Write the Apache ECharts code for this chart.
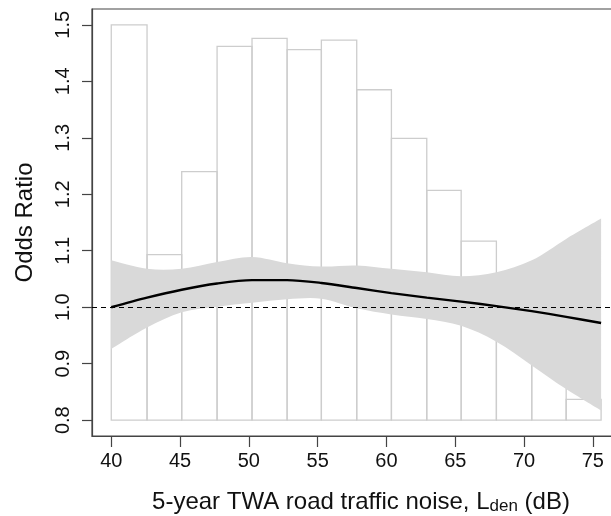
<!DOCTYPE html>
<html>
<head>
<meta charset="utf-8">
<script src="https://cdn.jsdelivr.net/npm/echarts@6/dist/echarts.min.js"></script>
<style>
html,body{margin:0;padding:0;background:#fff;}
#chart{width:611px;height:516px;}
</style>
</head>
<body>
<div id="chart"></div>
<script>
// Histogram bins (x edges, dB) and bar tops (drawn on the odds-ratio scale from 0.8)
const binEdges = [40.0, 42.6, 45.12, 47.69, 50.23, 52.78, 55.27, 57.84, 60.36, 62.93, 65.43, 67.99, 70.56, 73.06, 75.6];
const barHeights = [1.500, 1.093, 1.240, 1.462, 1.476, 1.456, 1.473, 1.385, 1.299, 1.207, 1.117, 1.020, 0.930, 0.837];
const barBase = 0.8;

// Exposure-response curve and 95% CI
const curveX   = [40.0, 42.6, 45.12, 47.69, 50.23, 52.78, 55.27, 57.84, 60.36, 62.93, 65.43, 67.99, 70.56, 73.06, 75.6];
const orEst    = [1.000, 1.017, 1.031, 1.042, 1.048, 1.048, 1.043, 1.034, 1.025, 1.017, 1.010, 1.002, 0.993, 0.983, 0.972];
const ciUpper  = [1.083, 1.068, 1.068, 1.080, 1.089, 1.078, 1.072, 1.074, 1.068, 1.062, 1.055, 1.062, 1.083, 1.121, 1.157];
const ciLower  = [0.926, 0.964, 0.991, 1.001, 1.008, 1.014, 1.015, 0.998, 0.987, 0.979, 0.967, 0.939, 0.897, 0.855, 0.817];
const refValue = 1.0;

// Tick labels
const xTicks = [40, 45, 50, 55, 60, 65, 70, 75];
const yTicks = [0.8, 0.9, 1.0, 1.1, 1.2, 1.3, 1.4, 1.5];

const FONT = '"Liberation Sans", Arial, Helvetica, sans-serif';

const chart = echarts.init(document.getElementById('chart'), null, {renderer: 'canvas'});

const barData = barHeights.map((h, i) => [binEdges[i], binEdges[i + 1], h]);

// Catmull-Rom -> cubic bezier path segments through pixel points (rendering smoothing only)
function splinePath(pts, startCmd) {
  let d = startCmd + ' ' + pts[0][0] + ' ' + pts[0][1];
  for (let i = 0; i < pts.length - 1; i++) {
    const p0 = pts[Math.max(i - 1, 0)], p1 = pts[i], p2 = pts[i + 1], p3 = pts[Math.min(i + 2, pts.length - 1)];
    const c1x = p1[0] + (p2[0] - p0[0]) / 6, c1y = p1[1] + (p2[1] - p0[1]) / 6;
    const c2x = p2[0] - (p3[0] - p1[0]) / 6, c2y = p2[1] - (p3[1] - p1[1]) / 6;
    d += ' C ' + c1x + ' ' + c1y + ' ' + c2x + ' ' + c2y + ' ' + p2[0] + ' ' + p2[1];
  }
  return d;
}

const option = {
  animation: false,
  backgroundColor: '#ffffff',
  grid: {
    left: 92, top: 9, right: -19, bottom: 80,
    containLabel: false,
    outerBoundsMode: 'none',
    show: true, borderColor: '#444', borderWidth: 1.2, backgroundColor: 'transparent'
  },
  xAxis: {
    type: 'value',
    min: 38.6, max: 77.7,
    name: '5-year TWA road traffic noise, L{sub|den} (dB)',
    nameLocation: 'middle',
    nameGap: 53,
    nameTextStyle: {
      fontFamily: FONT, fontSize: 24, color: '#111',
      rich: { sub: { fontFamily: FONT, fontSize: 17, color: '#111', padding: [9, 0, 0, 0] } }
    },
    splitLine: {show: false},
    axisLine: {show: true, onZero: false, lineStyle: {color: '#444', width: 1.2}},
    axisTick: {show: true, length: 11, customValues: xTicks, lineStyle: {color: '#444', width: 1.2}},
    axisLabel: {
      customValues: xTicks, margin: 15,
      fontFamily: FONT, fontSize: 20, color: '#111'
    }
  },
  yAxis: {
    type: 'value',
    min: 0.772, max: 1.528,
    name: 'Odds Ratio',
    nameLocation: 'middle',
    nameGap: 55,
    nameTextStyle: {fontFamily: FONT, fontSize: 24, color: '#111'},
    splitLine: {show: false},
    axisLine: {show: true, onZero: false, lineStyle: {color: '#444', width: 1.2}},
    axisTick: {show: true, length: 10, customValues: yTicks, lineStyle: {color: '#444', width: 1.2}},
    axisLabel: {
      customValues: yTicks, rotate: 90, margin: 19,
      fontFamily: FONT, fontSize: 20, color: '#111',
      formatter: v => v.toFixed(1)
    }
  },
  series: [
    {
      type: 'custom',
      name: 'hist',
      z: 1,
      silent: true,
      data: barData,
      encode: {x: [0, 1], y: 2},
      renderItem: function (params, api) {
        const x0 = api.value(0), x1 = api.value(1), h = api.value(2);
        const pTop = api.coord([x0, h]);
        const pBot = api.coord([x1, barBase]);
        return {
          type: 'rect',
          shape: {x: pTop[0], y: pTop[1], width: pBot[0] - pTop[0], height: pBot[1] - pTop[1]},
          style: {fill: 'none', stroke: '#cdcdcd', lineWidth: 1.3}
        };
      }
    },
    {
      type: 'custom',
      name: 'ci',
      z: 2,
      silent: true,
      data: [[curveX[0], ciLower[0], ciUpper[0]]],
      encode: {x: 0, y: [1, 2]},
      renderItem: function (params, api) {
        const up = curveX.map((x, i) => api.coord([x, ciUpper[i]]));
        const lo = curveX.map((x, i) => api.coord([x, ciLower[i]])).reverse();
        const d = splinePath(up, 'M') + ' ' + splinePath(lo, 'L') + ' Z';
        return {
          type: 'path',
          shape: {pathData: d},
          style: {fill: '#d9d9d9', stroke: 'none'}
        };
      }
    },
    {
      type: 'line',
      name: 'OR',
      z: 4,
      symbol: 'none',
      smooth: 0.3,
      silent: true,
      lineStyle: {color: '#000', width: 2.4},
      data: curveX.map((x, i) => [x, orEst[i]]),
      markLine: {
        silent: true,
        symbol: 'none',
        label: {show: false},
        lineStyle: {color: '#000', width: 1.1, type: [5, 4]},
        data: [{yAxis: refValue}]
      }
    }
  ]
};
chart.setOption(option);
</script>
</body>
</html>
